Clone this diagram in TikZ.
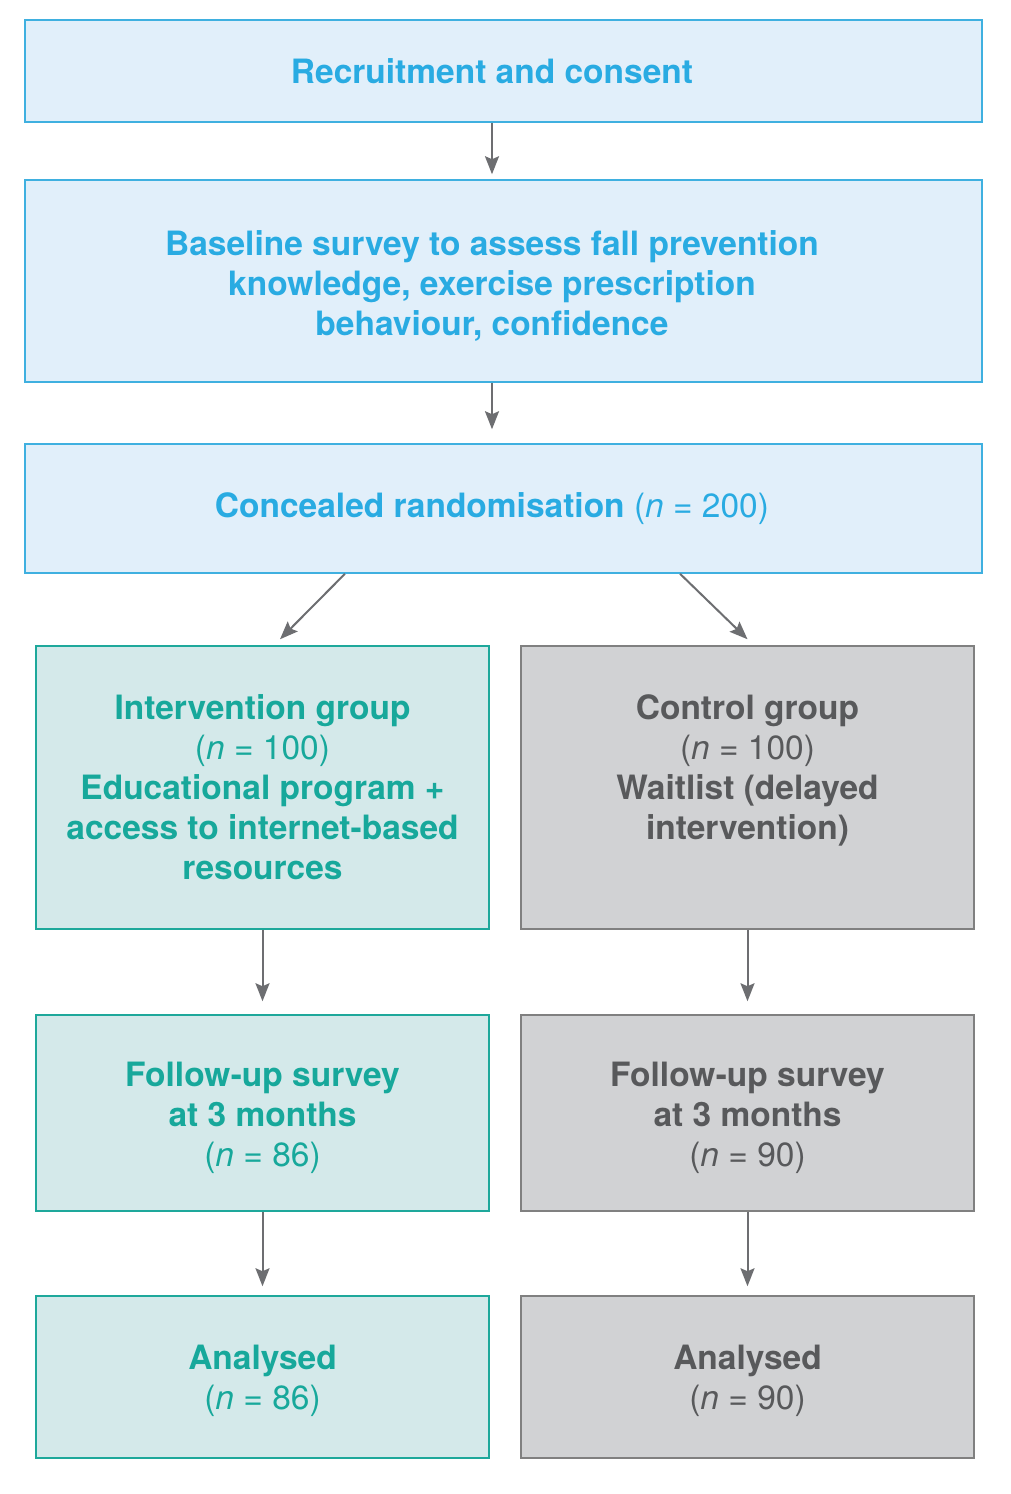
\documentclass[tikz,border=0pt]{standalone}
\usepackage{fontspec}
\setmainfont{TeX Gyre Heros}
\usetikzlibrary{arrows.meta,calc}
\definecolor{bluetxt}{HTML}{29ABE2}
\definecolor{bluefill}{HTML}{E1EFFA}
\definecolor{blueline}{HTML}{3FB0E0}
\definecolor{tealtxt}{HTML}{17A89B}
\definecolor{tealfill}{HTML}{D4E9EA}
\definecolor{tealline}{HTML}{1EA89B}
\definecolor{graytxt}{HTML}{58595B}
\definecolor{grayfill}{HTML}{D1D2D4}
\definecolor{grayline}{HTML}{808080}
\definecolor{arrowcol}{HTML}{6D6E71}
\newcommand{\nn}[1]{\mdseries(\textit{n} = #1)}
\newcommand{\sh}{\hspace*{-23pt}}
\newcommand{\tp}[1]{\rule{0pt}{#1}}
\begin{document}
\begin{tikzpicture}[x=1pt,y=-1pt,
  every node/.style={inner sep=0pt,align=center,font=\fontsize{33.5}{40}\selectfont\bfseries},
  bluebox/.style={draw=blueline,fill=bluefill,text=bluetxt,line width=1.5pt,minimum width=957pt},
  tealbox/.style={draw=tealline,fill=tealfill,text=tealtxt,line width=1.5pt,minimum width=453pt},
  graybox/.style={draw=grayline,fill=grayfill,text=graytxt,line width=1.5pt,minimum width=453pt},
  arr/.style={draw=arrowcol,line width=2pt,-{Stealth[length=18pt,width=14pt,inset=3pt]}}]
\useasboundingbox (0,0) rectangle (1010,1494);
\fill[white] (0,0) rectangle (1010,1494);
\node[bluebox,minimum height=102pt] (b1) at (503.5,71) {\sh\tp{26pt}Recruitment and consent};
\node[bluebox,minimum height=202pt] (b2) at (503.5,281) {\sh\tp{35pt}Baseline survey to assess fall prevention\\ \sh knowledge, exercise prescription\\ \sh behaviour, confidence};
\node[bluebox,minimum height=129pt] (b3) at (503.5,508.5) {\raisebox{3pt}{\sh Concealed randomisation \nn{200}}};
\node[tealbox,minimum height=283pt] (b4) at (262.5,787.5) {Intervention group\\ \nn{100}\\ Educational program +\\ access to internet-based\\ resources};
\node[graybox,minimum height=283pt] (b5) at (747.5,787.5) {Control group\\ \nn{100}\\ Waitlist (delayed\\ intervention)\\ \mbox{}};
\node[tealbox,minimum height=196pt] (b6) at (262.5,1113) {\tp{35pt}Follow-up survey\\ at 3 months\\ \nn{86}};
\node[graybox,minimum height=196pt] (b7) at (747.5,1113) {\tp{35pt}Follow-up survey\\ at 3 months\\ \nn{90}};
\node[tealbox,minimum height=162pt] (b8) at (262.5,1377) {\tp{33pt}Analysed\\ \nn{86}};
\node[graybox,minimum height=162pt] (b9) at (747.5,1377) {\tp{33pt}Analysed\\ \nn{90}};
\draw[arr,shorten >=5pt] ([xshift=-11.5pt]b1.south) -- ([xshift=-11.5pt]b2.north);
\draw[arr,shorten >=14pt] ([xshift=-11.5pt]b2.south) -- ([xshift=-11.5pt]b3.north);
\draw[arr] ([xshift=-158.5pt]b3.south) -- ($(b4.north)+(17.5,-6)$);
\draw[arr] ([xshift=176.5pt]b3.south) -- ($(b5.north)+(0,-6)$);
\draw[arr,shorten >=13pt] (b4.south) -- (b6.north);
\draw[arr,shorten >=13pt] (b5.south) -- (b7.north);
\draw[arr,shorten >=9pt] (b6.south) -- (b8.north);
\draw[arr,shorten >=9pt] (b7.south) -- (b9.north);
\end{tikzpicture}
\end{document}
